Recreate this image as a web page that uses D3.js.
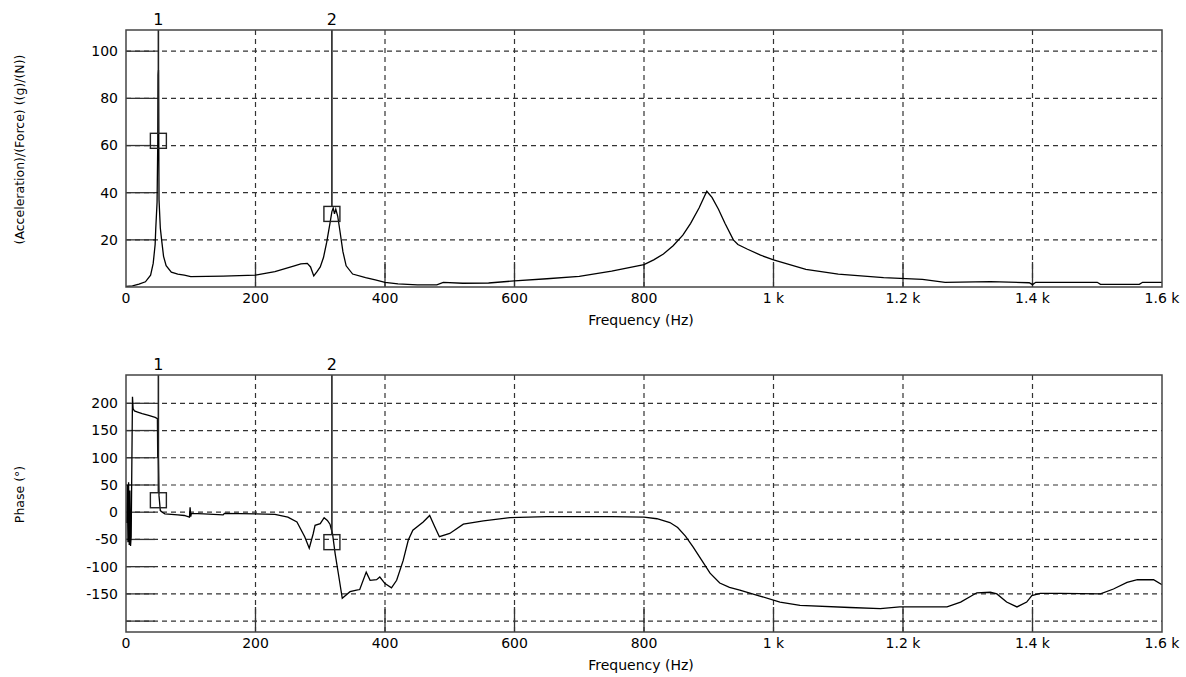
<!DOCTYPE html>
<html>
<head>
<meta charset="utf-8">
<script src="https://cdn.jsdelivr.net/npm/d3@7"></script>
<style>
  body { margin: 0; background: #fff; }
  svg text { font-family: "DejaVu Sans", sans-serif; fill: #000; }
</style>
</head>
<body>
<div id="container"></div>
<script>
// frequency response
const magFreq = [0, 10, 20, 30, 38, 42, 45, 46, 48, 49, 49.6, 50.2, 51, 53, 55, 58, 62, 70, 80, 90, 100, 150, 200, 230, 260, 270, 280, 285, 290, 295, 300, 305, 310, 315, 318, 320, 322, 324, 327, 330, 335, 340, 350, 370, 385, 400, 420, 450, 480, 490, 520, 560, 600, 650, 700, 750, 800, 815, 830, 845, 860, 872, 885, 897, 905, 915, 925, 938, 945, 960, 980, 1000, 1050, 1100, 1170, 1230, 1265, 1335, 1395, 1400, 1405, 1500, 1505, 1565, 1570, 1600];
const magVals = [0.3, 0.5, 1.2, 2.2, 5, 10, 18, 25, 36, 60, 90, 92, 37, 25, 20, 13, 9, 6.3, 5.5, 5, 4.4, 4.6, 5, 6.5, 9, 9.8, 10, 8.5, 4.7, 6.5, 8.5, 12.5, 19, 27, 32, 33.5, 31, 33, 30, 24.5, 15, 9, 5.5, 4, 3, 2, 1.3, 0.9, 0.9, 2, 1.6, 1.7, 2.6, 3.5, 4.5, 6.7, 9.5, 11.5, 14, 17.5, 22, 27, 33.5, 40.6, 38, 33, 27, 20, 18, 16, 13.5, 11.5, 7.5, 5.5, 4, 3.2, 2, 2.3, 1.8, 1, 2, 2, 1.1, 1.1, 2, 2];

const phaseFreq = [1, 2, 3, 4, 5, 6, 7, 8, 10, 11, 13, 18, 25, 35, 45, 48.5, 49, 49.5, 50, 51, 53, 56, 60, 70, 80, 90, 98, 99, 100, 101, 120, 150, 152, 200, 230, 250, 264, 276, 283, 289, 292, 300, 306, 311, 315, 319, 323, 328, 334, 346, 356, 361, 371, 377, 387, 392, 400, 410, 418, 428, 436, 443, 459, 469, 477, 484, 500, 521, 552, 593, 650, 750, 800, 820, 840, 852, 864, 876, 888, 902, 917, 932, 948, 979, 1010, 1041, 1118, 1165, 1195, 1268, 1289, 1314, 1335, 1345, 1360, 1376, 1391, 1399, 1412, 1443, 1505, 1525, 1546, 1562, 1587, 1600];
const phaseVals = [-20, 50, -55, 55, -60, 40, -62, -45, 212, 190, 186, 184, 181, 178, 174, 172, 100, 168, 100, 30, 3, 0, -3, -4, -5, -6, -9, 9, -8, -2, -3, -5, -2, -3, -4, -9, -18, -45, -66, -40, -24, -21, -10, -15, -22, -40, -76, -113, -158, -146, -143, -142, -110, -125, -124, -119, -131, -139, -125, -89, -51, -33, -18, -6, -27, -45, -39, -22, -16, -10, -8, -8, -9, -12, -19, -28, -44, -64, -86, -112, -130, -138, -143, -154, -165, -171, -175, -177, -174, -174, -165, -148, -147, -150, -165, -174, -165, -153, -149, -149, -150, -141, -129, -124, -124, -133];

// cursors
const markerNames = ["1", "2"];
const markerFreq = [50, 318];
const markerMag = [62, 31];
const markerPhase = [22, -55];

// ticks
const freqTicks = [0, 200, 400, 600, 800, 1000, 1200, 1400, 1600];
const magTicks = [20, 40, 60, 80, 100];
const phaseTicks = [-200, -150, -100, -50, 0, 50, 100, 150, 200];

const width = 1186;
const height = 677;
const left = 126, right = 1162;

const svg = d3.select("#container").append("svg")
  .attr("width", width)
  .attr("height", height);

const x = d3.scaleLinear().domain([0, 1600]).range([left, right]);
const fmtFreq = d => d === 0 ? "0" : (d >= 1000 ? (d / 1000) + " k" : String(d));

function drawPanel(opts) {
  const { top, bottom, y, ticks, hideLabel, freq, vals, mvals, label, id } = opts;
  const g = svg.append("g");

  g.append("clipPath").attr("id", id)
    .append("rect")
    .attr("x", left).attr("y", top)
    .attr("width", right - left).attr("height", bottom - top);

  // dashed grid
  g.selectAll(".hgrid").data(ticks).join("line")
    .attr("x1", left).attr("x2", right)
    .attr("y1", d => y(d)).attr("y2", d => y(d))
    .attr("stroke", "#333").attr("stroke-width", 1.2)
    .attr("stroke-dasharray", "5,4");
  g.selectAll(".vgrid").data(freqTicks.slice(1, -1)).join("line")
    .attr("x1", d => x(d)).attr("x2", d => x(d))
    .attr("y1", top).attr("y2", bottom)
    .attr("stroke", "#333").attr("stroke-width", 1.2)
    .attr("stroke-dasharray", "5,4");

  // solid inner ticks
  g.selectAll(".htick").data(ticks).join("line")
    .attr("x1", left).attr("x2", left + 29)
    .attr("y1", d => y(d)).attr("y2", d => y(d))
    .attr("stroke", "#333").attr("stroke-width", 1.3);
  g.selectAll(".vtick").data(freqTicks.slice(1, -1)).join("line")
    .attr("x1", d => x(d)).attr("x2", d => x(d))
    .attr("y1", bottom - 25).attr("y2", bottom)
    .attr("stroke", "#333").attr("stroke-width", 1.3);

  // y tick labels
  g.selectAll(".ylab").data(ticks.filter(d => d !== hideLabel)).join("text")
    .attr("x", left - 8).attr("y", d => y(d)).attr("dy", "0.35em")
    .attr("text-anchor", "end").attr("font-size", 14)
    .text(d => d);

  // x tick labels
  g.selectAll(".xlab").data(freqTicks).join("text")
    .attr("x", d => x(d)).attr("y", bottom + 16)
    .attr("text-anchor", "middle").attr("font-size", 14)
    .text(fmtFreq);

  g.append("text")
    .attr("x", 641).attr("y", bottom + 38)
    .attr("text-anchor", "middle").attr("font-size", 14)
    .text("Frequency (Hz)");

  g.append("text")
    .attr("transform", `translate(24,${(top + bottom) / 2 - 9}) rotate(-90)`)
    .attr("text-anchor", "middle").attr("font-size", 12.5)
    .text(label);

  // curve
  const line = d3.line().x(d => x(d[0])).y(d => y(d[1]));
  g.append("path")
    .datum(d3.zip(freq, vals))
    .attr("clip-path", `url(#${id})`)
    .attr("d", line)
    .attr("fill", "none")
    .attr("stroke", "#000")
    .attr("stroke-width", 1.3);

  // cursors
  markerFreq.forEach((f, i) => {
    const cx = x(f), cy = y(mvals[i]);
    g.append("line")
      .attr("x1", cx).attr("x2", cx)
      .attr("y1", top).attr("y2", cy - 7.5)
      .attr("stroke", "#222").attr("stroke-width", 1.6);
    g.append("rect")
      .attr("x", cx - 8).attr("y", cy - 7.5)
      .attr("width", 16).attr("height", 15)
      .attr("fill", "none").attr("stroke", "#222").attr("stroke-width", 1.4);
    g.append("text")
      .attr("x", cx).attr("y", top - 5)
      .attr("text-anchor", "middle").attr("font-size", 16)
      .text(markerNames[i]);
  });

  // frame
  g.append("rect")
    .attr("x", left).attr("y", top)
    .attr("width", right - left).attr("height", bottom - top)
    .attr("fill", "none").attr("stroke", "#444").attr("stroke-width", 1.5);
}

drawPanel({
  id: "clipMag", top: 30, bottom: 287,
  y: d3.scaleLinear().domain([0, 109]).range([287, 30]),
  ticks: magTicks, hideLabel: null,
  freq: magFreq, vals: magVals, mvals: markerMag,
  label: "(Acceleration)/(Force) ((g)/(N))"
});

drawPanel({
  id: "clipPhase", top: 375, bottom: 632,
  y: d3.scaleLinear().domain([-220, 252]).range([632, 375]),
  ticks: phaseTicks, hideLabel: -200,
  freq: phaseFreq, vals: phaseVals, mvals: markerPhase,
  label: "Phase (°)"
});
</script>
</body>
</html>
